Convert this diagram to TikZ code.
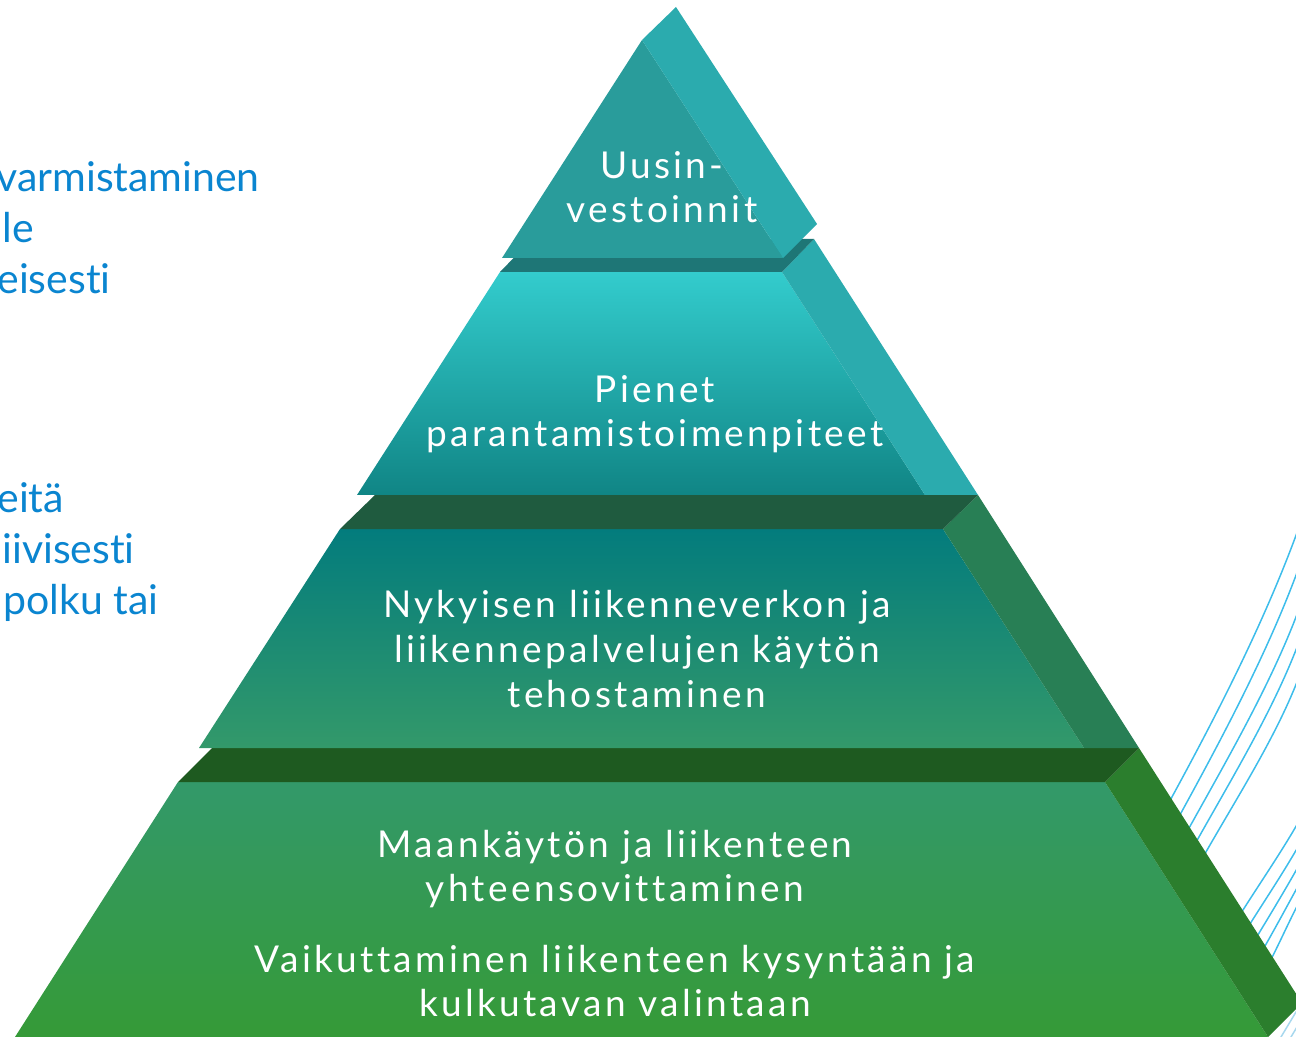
\documentclass[tikz,border=0pt]{standalone}
\usepackage{fontspec}
\setmainfont[Ligatures=NoCommon]{Lato}
\newfontfamily\tierfont[LetterSpace=9, Ligatures=NoCommon]{Lato}
\usetikzlibrary{calc}

\definecolor{apexfront}{HTML}{299C9B}
\definecolor{tealside}{HTML}{2BABAE}
\definecolor{bandteal}{HTML}{1E7676}
\definecolor{cyantop}{HTML}{33CCCD}
\definecolor{cyanbottom}{HTML}{108585}
\definecolor{bandpine}{HTML}{1F5B3F}
\definecolor{petrol}{HTML}{037C7D}
\definecolor{seagreen}{HTML}{33996A}
\definecolor{pineside}{HTML}{287F55}
\definecolor{bandforest}{HTML}{1E5A20}
\definecolor{grass}{HTML}{359A37}
\definecolor{grassside}{HTML}{2B7E2D}
\definecolor{noteblue}{HTML}{0A85D0}
\definecolor{waveblue}{HTML}{3DBDEB}
\definecolor{palewave}{HTML}{A8D8EE}

\tikzset{
    % white lettering on the front faces
    tier text/.style={text=white, align=center, inner sep=0,
        font=\tierfont\fontsize{18.5}{22.3}\selectfont},
    % blue notes running in from the left margin
    note text/.style={text=noteblue, anchor=base west, inner sep=0,
        font=\fontsize{20.5}{25.5}\selectfont},
    % thin swept lines behind the pyramid
    wave/.style={draw=waveblue, line width=0.75pt},
    pale wave/.style={draw=palewave, line width=0.75pt}}

\begin{document}
\begin{tikzpicture}[x=0.5pt, y=-0.5pt]
\useasboundingbox (0,0) rectangle (1296,1037);

% Swept lines, drawn first so the pyramid hides their lower ends
\foreach \sx/\sy/\ex/\ey/\h in {1161/817/1303/516/100, 1170/833/1303/556/92,
        1178/848/1303/598/83, 1185/862/1303/631/77, 1193/875/1303/666/70}
    \draw[wave] (\sx,\sy) .. controls +(0.55*\h,-\h) and +(-0.35*\h,\h) .. (\ex,\ey);
\foreach \sx/\sy/\ex/\ey/\h in {1230/931/1303/814/39, 1237/945/1303/838/36,
        1244/958/1303/858/33, 1251/970/1303/877/31, 1258/983/1303/895/29}
    \draw[wave] (\sx,\sy) .. controls +(0.6*\h,-\h) and +(-0.55*\h,\h) .. (\ex,\ey);
\foreach \sx in {1272, 1282}
    \draw[pale wave] (\sx,1052) -- +(36,-60);

% Bottom tier: front, side and top face
\shade[top color=seagreen, bottom color=grass]
    (178,782) -- (1105,782) -- (1268,1037) -- (15,1037) -- cycle;
\fill[grassside] (1105,782) -- (1139,748) -- (1302,1003) -- (1268,1037) -- cycle;
\fill[bandforest] (178,782) -- (1105,782) -- (1139,748) -- (212,748) -- cycle;

% Third tier
\shade[top color=petrol, bottom color=seagreen]
    (340,529) -- (943,529) -- (1084,748) -- (199,748) -- cycle;
\fill[pineside] (943,529) -- (978,495) -- (1139,748) -- (1084,748) -- cycle;
\fill[bandpine] (340,529) -- (943,529) -- (978,495) -- (375,495) -- cycle;

% Second tier
\shade[top color=cyantop, bottom color=cyanbottom]
    (500,272) -- (782,272) -- (925,495) -- (357,495) -- cycle;
\fill[tealside] (782,272) -- (814,239) -- (978,495) -- (925,495) -- cycle;
\fill[bandteal] (500,272) -- (782,272) -- (814,239) -- (532,239) -- cycle;

% Apex
\fill[apexfront] (642,40) -- (783,258) -- (502,258) -- cycle;
\fill[tealside] (642,40) -- (676,7) -- (817,224) -- (783,258) -- cycle;

% Tier labels
\node[tier text] (apex label) at (662,187) {Uusin-\\vestoinnit};
\node[tier text] (small label) at (655,414) {Pienet\\parantamistoimenpiteet};
\node[tier text] (network label) at (637,649)
    {Nykyisen liikenneverkon ja\\liikennepalvelujen käytön\\tehostaminen};
\node[tier text] (landuse label) at (615,869)
    {Maankäytön ja liikenteen\\yhteensovittaminen};
\node[tier text] (demand label) at (615,981)
    {Vaikuttaminen liikenteen kysyntään ja\\kulkutavan valintaan};

% Notes on the left
\node[note text] (note a1) at (-4,192) {varmistaminen};
\node[note text] (note a2) at (2,243) {le};
\node[note text] (note a3) at (-3,294) {eisesti};
\node[note text] (note b1) at (-3,513) {eitä};
\node[note text] (note b2) at (2,563) {iivisesti};
\node[note text] (note b3) at (3,614) {polku tai};
\end{tikzpicture}
\end{document}
